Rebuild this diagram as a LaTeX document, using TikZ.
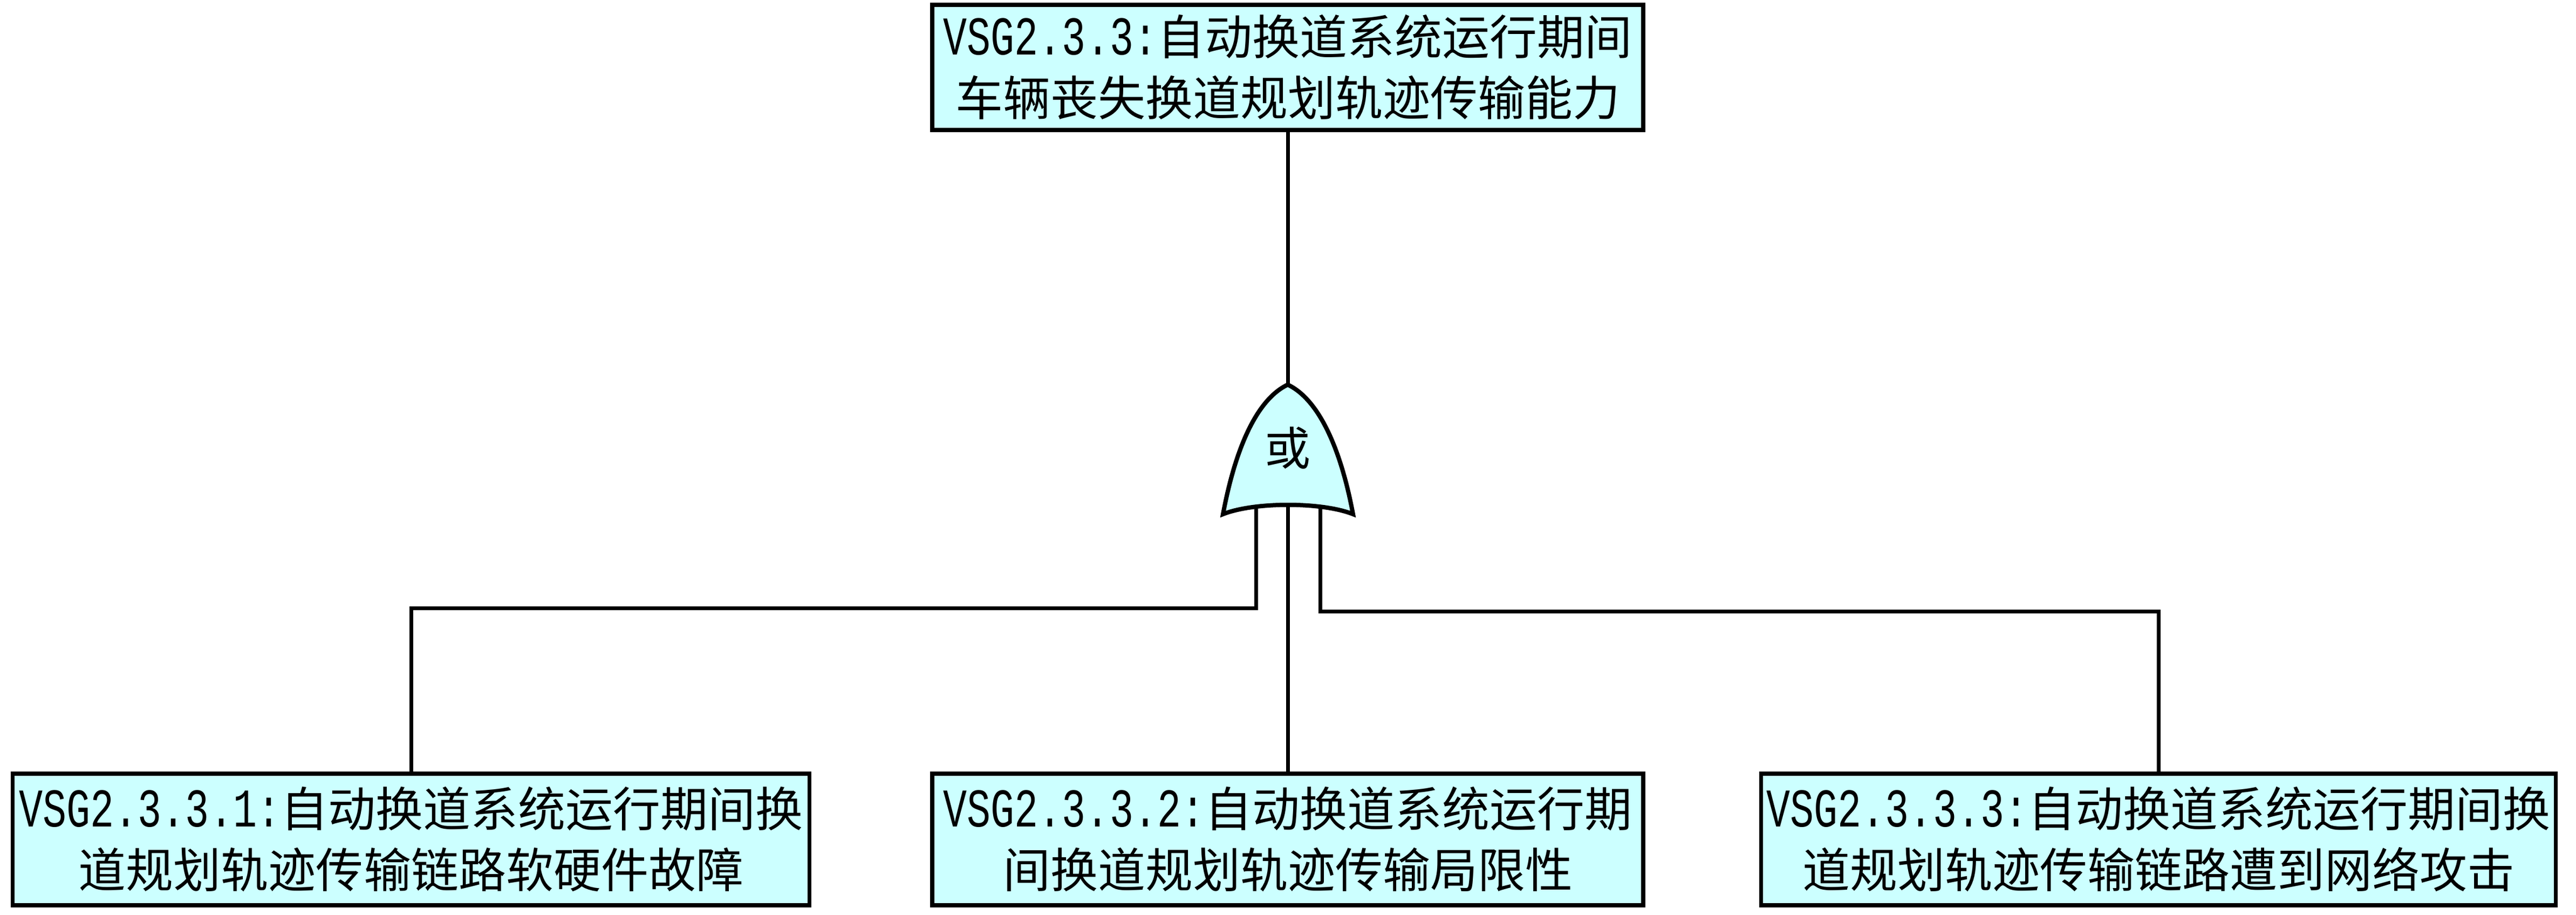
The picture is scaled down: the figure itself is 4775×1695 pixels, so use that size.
\documentclass[tikz,border=0pt]{standalone}
\usepackage{fontspec}
\setmainfont{Noto Sans CJK SC}
\newfontfamily\latpart[Scale=1.15,FakeStretch=0.725]{Liberation Mono}
\definecolor{boxfill}{RGB}{204,255,255}
\tikzset{
  evt/.style={draw=black, line width=1.5pt, fill=boxfill, align=center,
    font=\fontsize{17.6}{22.6}\selectfont, inner sep=0pt},
  conn/.style={draw=black, line width=1.4pt},
  gateshape/.style={draw=black, line width=1.6pt, fill=boxfill}
}
\begin{document}
\begin{tikzpicture}[x=0.2pt,y=-0.2pt]
\useasboundingbox (0,0) rectangle (4775,1695);
\fill[white] (0,0) rectangle (4775,1695);
% events
\node[evt, minimum width=263.6pt, minimum height=46.4pt] (top) at (2387,125)
  {{\latpart VSG2.3.3:}自动换道系统运行期间\\车辆丧失换道规划轨迹传输能力};
\node[evt, minimum width=295.4pt, minimum height=48.8pt] (b1) at (762,1556)
  {{\latpart VSG2.3.3.1:}自动换道系统运行期间换\\道规划轨迹传输链路软硬件故障};
\node[evt, minimum width=263.6pt, minimum height=48.8pt] (b2) at (2387,1556)
  {{\latpart VSG2.3.3.2:}自动换道系统运行期\\间换道规划轨迹传输局限性};
\node[evt, minimum width=294.6pt, minimum height=48.8pt] (b3) at (4001,1556)
  {{\latpart VSG2.3.3.3:}自动换道系统运行期间换\\道规划轨迹传输链路遭到网络攻击};
% gate anchor points
\coordinate (gtop) at (2387,713);
\coordinate (gin1) at (2328,925);
\coordinate (gin2) at (2387,925);
\coordinate (gin3) at (2447,925);
\coordinate (j1) at (2328,1127);
\coordinate (j3) at (2447,1133);
% connectors
\draw[conn] (top.south) -- (gtop);
\draw[conn] (gin1) -- (j1) -| (b1.north);
\draw[conn] (gin2) -- (b2.north);
\draw[conn] (gin3) -- (j3) -| (b3.north);
% OR gate
\draw[gateshape] (2267,953) .. controls (2290,830) and (2330,740) .. (gtop)
  .. controls (2444,740) and (2485,830) .. (2508,953)
  .. controls (2450,930) and (2325,930) .. (2267,953) -- cycle;
\node[font=\fontsize{17}{20}\selectfont] (gatelabel) at (2387,830) {或};
\end{tikzpicture}
\end{document}
